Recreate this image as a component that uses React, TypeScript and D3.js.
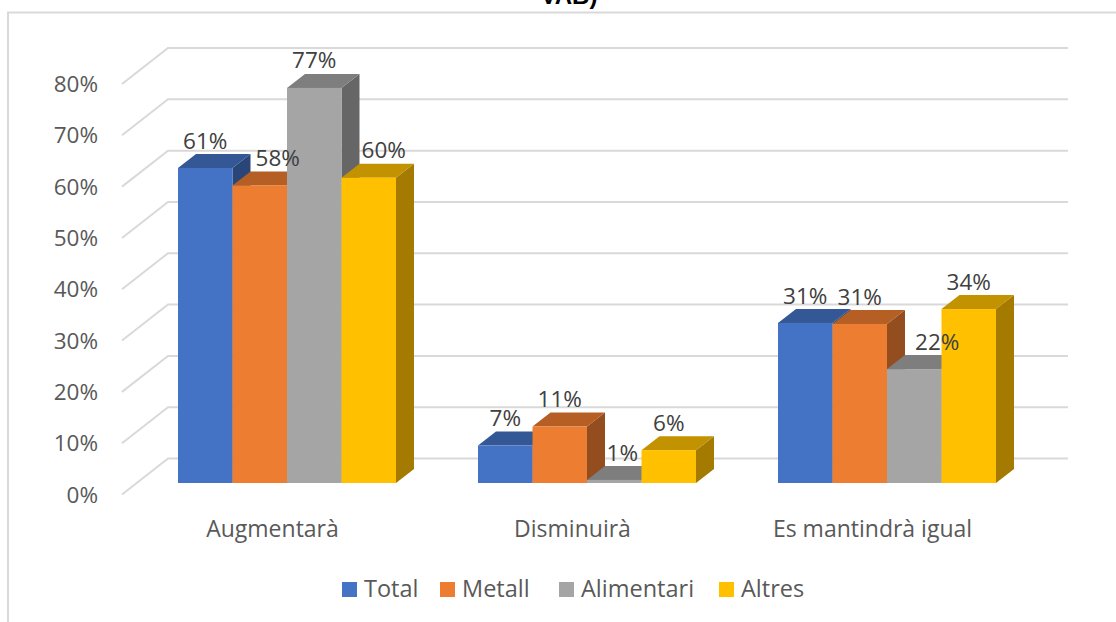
import React from "react";
import * as d3 from "d3";

const categories = ["Augmentarà", "Disminuirà", "Es mantindrà igual"];
const seriesNames = ["Total", "Metall", "Alimentari", "Altres"];
const total = [61.4, 7.3, 31.2];
const metall = [58, 11, 31];
const alimentari = [77, 0.6, 22.2];
const altres = [59.5, 6.4, 33.9];
const valueLabels = [
  ["61%", "7%", "31%"],
  ["58%", "11%", "31%"],
  ["77%", "1%", "22%"],
  ["60%", "6%", "34%"],
];
const yTicks = [0, 10, 20, 30, 40, 50, 60, 70, 80];
const frontColors = ["#4472c4", "#ed7d31", "#a5a5a5", "#ffc000"];
const topColors = ["#345795", "#b55f25", "#7e7e7e", "#c29200"];
const sideColors = ["#2a4679", "#934d1e", "#666666", "#a47b00"];

const FONT = "'Open Sans', sans-serif";
const depthX = 18;
const depthY = 14;
const nudge: Record<string, number> = { "1-0": 18, "3-0": 15, "2-1": 8, "2-2": 23 };

export default function App() {
  const series = [total, metall, alimentari, altres];
  const yFront = d3.scaleLinear().domain([0, 80]).range([483, 72.5]);
  const yBack = d3.scaleLinear().domain([0, 80]).range([458.5, 48]);
  const groupX = d3.scalePoint<number>().domain([0, 1, 2]).range([178, 778]);
  const x1 = d3.scaleBand().domain(seriesNames).range([0, 218]);

  const legendX = [342, 440, 559, 719];
  return (
    <svg width={1116} height={622} style={{ position: "absolute", left: 0, top: 0, display: "block", background: "#fff" }} fontFamily={FONT}>
      <text x={569} y={4} textAnchor="middle" fontSize={24} fontWeight={700} fill="#000" fontFamily="'Liberation Sans', sans-serif">VAB)</text>
      <path d="M8 622V12.5H1116" fill="none" stroke="#d9d9d9" strokeWidth={2} />
      {yTicks.map((t) => {
        const yb = yBack(t);
        return (
          <g key={t}>
            <path d={`M122 ${yb + 36}L168 ${yb}H1068`} fill="none" stroke="#d9d9d9" strokeWidth={2} />
            <text x={98} y={yb + 36} dy="0.36em" textAnchor="end" fontSize={22.5} fill="#595959">{t}%</text>
          </g>
        );
      })}
      {categories.map((c, ci) =>
        seriesNames.map((s, si) => {
          const v = series[si][ci];
          const x = (groupX(ci) as number) + (x1(s) as number);
          const w = x1.bandwidth();
          const y = yFront(v);
          const b = yFront(0);
          return (
            <g key={c + s}>
              <path d={`M${x + w} ${y}l${depthX} ${-depthY}V${b - depthY}l${-depthX} ${depthY}Z`} fill={sideColors[si]} />
              <path d={`M${x} ${y}l${depthX} ${-depthY}h${w}l${-depthX} ${depthY}Z`} fill={topColors[si]} />
              <rect x={x} y={y} width={w} height={b - y} fill={frontColors[si]} />
            </g>
          );
        })
      )}
      {categories.map((c, ci) =>
        seriesNames.map((s, si) => {
          const x = (groupX(ci) as number) + (x1(s) as number) + x1.bandwidth() / 2 + (nudge[`${si}-${ci}`] ?? 0);
          return (
            <text key={c + s} x={x} y={yFront(series[si][ci]) - 27.5} dy="0.36em" textAnchor="middle" fontSize={22.5} fill="#404040">
              {valueLabels[si][ci]}
            </text>
          );
        })
      )}
      {categories.map((c, ci) => (
        <text key={c} x={(groupX(ci) as number) + 94.5} y={529} dy="0.36em" textAnchor="middle" fontSize={23} fill="#595959">{c}</text>
      ))}
      {seriesNames.map((s, si) => (
        <g key={s}>
          <rect x={legendX[si]} y={582} width={15} height={15} fill={frontColors[si]} />
          <text x={legendX[si] + 22} y={589} dy="0.36em" fontSize={23.5} fill="#595959">{s}</text>
        </g>
      ))}
    </svg>
  );
}
